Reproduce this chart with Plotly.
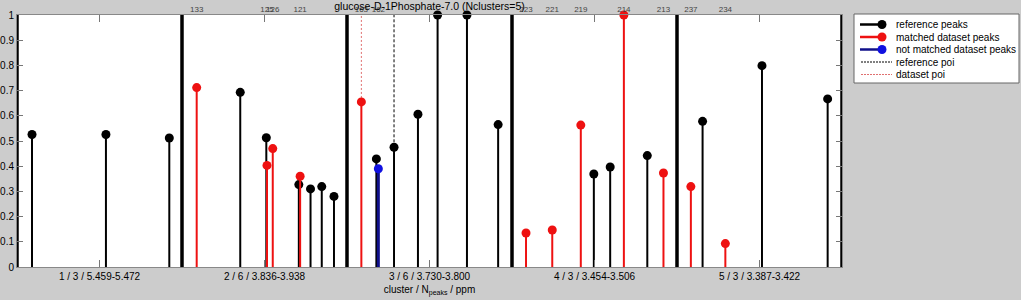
import plotly.graph_objects as go

# ---------------- data ----------------
cluster_labels = ["1 / 3 / 5.459-5.472", "2 / 6 / 3.836-3.938", "3 / 6 / 3.730-3.800",
                  "4 / 3 / 3.454-3.506", "5 / 3 / 3.387-3.422"]
ref_x = [0.091, 0.539, 0.923, 1.353, 1.511, 1.708, 1.779, 1.847, 1.921, 2.178, 2.285,
         2.430, 2.549, 2.727, 2.916, 3.496, 3.595, 3.820, 4.155, 4.515, 4.913]
ref_y = [0.526, 0.526, 0.512, 0.693, 0.513, 0.327, 0.310, 0.319, 0.280, 0.429, 0.475,
         0.606, 1.0, 1.0, 0.565, 0.369, 0.397, 0.442, 0.578, 0.799, 0.667]
matched_x = [1.089, 1.515, 1.550, 1.716, 2.087, 3.085, 3.244, 3.417, 3.678, 3.918, 4.084, 4.293]
matched_y = [0.712, 0.403, 0.470, 0.360, 0.655, 0.135, 0.147, 0.563, 1.0, 0.373, 0.319, 0.093]
matched_ids = ["133", "125", "126", "121", "163", "223", "221", "219", "214", "213", "237", "234"]
unmatched_x = [2.190]
unmatched_y = [0.390]
unmatched_ids = ["162"]
ref_poi_x = 2.285
ref_poi_y = 0.475
data_poi_x = 2.087
data_poi_y = 0.655
n_clusters = 5
y_ticks = [i / 10 for i in range(11)]
y_ticktext = ["0", "0.1", "0.2", "0.3", "0.4", "0.5", "0.6", "0.7", "0.8", "0.9", "1"]
legend_names = ["reference peaks", "matched dataset peaks", "not matched dataset peaks",
                "reference poi", "dataset poi"]

BLACK = "#000000"
RED = "#ee1111"
BLUE = "#1010e0"
BLUE_STEM = "#10108a"
POI_RED = "#e07070"
FONT = "Liberation Sans, Arial, sans-serif"


def stems(xs, ys, base=0.0):
    sx, sy = [], []
    for x, y in zip(xs, ys):
        sx += [x, x, None]
        sy += [base, y, None]
    return sx, sy


fig = go.Figure()

# poi lines (underneath)
px_, py_ = stems([ref_poi_x], [1.0], ref_poi_y)
fig.add_trace(go.Scatter(x=px_, y=py_, mode="lines", line=dict(color=BLACK, width=1, dash="3px,2px"),
                         hoverinfo="skip", showlegend=False))
px_, py_ = stems([data_poi_x], [1.0], data_poi_y)
fig.add_trace(go.Scatter(x=px_, y=py_, mode="lines", line=dict(color=POI_RED, width=1, dash="2px,2px"),
                         hoverinfo="skip", showlegend=False))

# cluster separators
bx = list(range(n_clusters + 1))
sx, sy = stems(bx, [1.0] * len(bx))
fig.add_trace(go.Scatter(x=sx, y=sy, mode="lines", line=dict(color=BLACK, width=3.5),
                         hoverinfo="skip", showlegend=False, cliponaxis=False))

# reference peaks
sx, sy = stems(ref_x, ref_y)
fig.add_trace(go.Scatter(x=sx, y=sy, mode="lines", line=dict(color=BLACK, width=2),
                         hoverinfo="skip", showlegend=False))
fig.add_trace(go.Scatter(x=ref_x, y=ref_y, mode="markers", marker=dict(color=BLACK, size=9),
                         showlegend=False, cliponaxis=False))

# matched dataset peaks
sx, sy = stems(matched_x, matched_y)
fig.add_trace(go.Scatter(x=sx, y=sy, mode="lines", line=dict(color=RED, width=2),
                         hoverinfo="skip", showlegend=False))
fig.add_trace(go.Scatter(x=matched_x, y=matched_y, mode="markers", marker=dict(color=RED, size=9),
                         showlegend=False, cliponaxis=False))

# not matched dataset peaks
sx, sy = stems(unmatched_x, unmatched_y)
fig.add_trace(go.Scatter(x=sx, y=sy, mode="lines", line=dict(color=BLUE_STEM, width=3),
                         hoverinfo="skip", showlegend=False))
fig.add_trace(go.Scatter(x=unmatched_x, y=unmatched_y, mode="markers", marker=dict(color=BLUE, size=9),
                         showlegend=False, cliponaxis=False))

# invisible trace on the top axis (dataset peak ids)
top_x = matched_x + unmatched_x
top_t = matched_ids + unmatched_ids
fig.add_trace(go.Scatter(x=top_x, y=[0] * len(top_x), xaxis="x2", mode="markers",
                         marker=dict(opacity=0), hoverinfo="skip", showlegend=False))

# ---------------- layout ----------------
L, R, T, B = 17, 842, 15, 267
W, H = R - L, B - T


def xp(px):
    return (px - L) / W


def yp(py):
    return (B - py) / H


shapes = []
annotations = []
# legend box
shapes.append(dict(type="rect", xref="paper", yref="paper", x0=xp(854), x1=xp(1019),
                   y0=yp(83), y1=yp(14), line=dict(color="#666666", width=1), fillcolor="white"))
rows = [24.5, 37, 49.5, 62, 74.5]
leg_colors = [BLACK, RED, BLUE_STEM]
leg_mcolors = [BLACK, RED, BLUE]
for i, name in enumerate(legend_names):
    yy = yp(rows[i])
    if i < 3:
        shapes.append(dict(type="line", xref="paper", yref="paper", x0=xp(860), x1=xp(882), y0=yy, y1=yy,
                           line=dict(color=leg_colors[i], width=2.5)))
        shapes.append(dict(type="circle", xref="paper", yref="paper", xsizemode="pixel", ysizemode="pixel",
                           xanchor=xp(882), yanchor=yy, x0=-4.5, x1=4.5, y0=-4.5, y1=4.5,
                           fillcolor=leg_mcolors[i], line=dict(width=0)))
    else:
        c = BLACK if i == 3 else POI_RED
        shapes.append(dict(type="line", xref="paper", yref="paper", x0=xp(861), x1=xp(892), y0=yy, y1=yy,
                           line=dict(color=c, width=1, dash="2px,1px")))
    annotations.append(dict(xref="paper", yref="paper", x=xp(894), y=yy, xanchor="left", yanchor="middle",
                            text=name, showarrow=False, font=dict(size=10, color="black", family=FONT)))

fig.update_layout(
    width=1021, height=300,
    margin=dict(l=L, r=1021 - R, t=T, b=300 - B, pad=0, autoexpand=False),
    paper_bgcolor="#cccccc", plot_bgcolor="white",
    font=dict(family=FONT, size=10, color="black"),
    title=dict(text="glucose-D-1Phosphate-7.0 (Nclusters=5)", x=0.5, xref="paper",
               y=1 - 6 / 300, yref="container", xanchor="center", yanchor="middle",
               font=dict(size=10.5, color="black", family=FONT), pad=dict(t=0, b=0)),
    showlegend=False,
    shapes=shapes, annotations=annotations,
    xaxis=dict(range=[0, n_clusters], tickvals=[i + 0.5 for i in range(n_clusters)],
               ticktext=cluster_labels, ticks="inside", ticklen=7, tickcolor="#777777",
               showline=True, linecolor="#888888", linewidth=1, mirror="ticks",
               showgrid=False, zeroline=False, fixedrange=True, automargin=False, tickangle=0,
               tickfont=dict(size=10, color="black"),
               title=dict(text="cluster / N<sub>peaks</sub> / ppm", standoff=4, font=dict(size=10))),
    xaxis2=dict(range=[0, n_clusters], overlaying="x", side="top", anchor="y",
                tickvals=top_x, ticktext=top_t, ticks="", showline=False, showgrid=False,
                zeroline=False, automargin=False, tickangle=0, tickfont=dict(size=8, color="#444444")),
    yaxis=dict(range=[0, 1], tickvals=y_ticks, ticktext=y_ticktext, ticks="inside", ticklen=6,
               tickcolor="#777777", showline=True, linecolor="#888888", linewidth=1, mirror="ticks",
               showgrid=False, zeroline=False, automargin=False, tickfont=dict(size=10, color="black")),
)

fig.write_html("out.html")
